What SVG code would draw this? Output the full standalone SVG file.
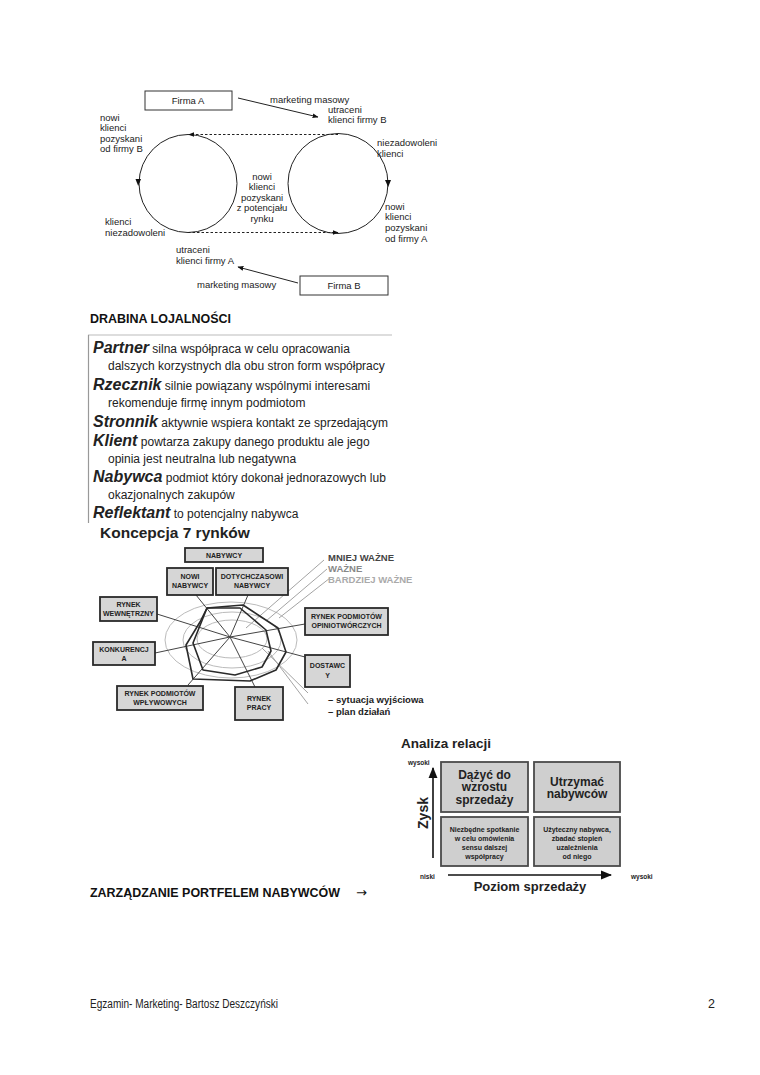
<svg xmlns="http://www.w3.org/2000/svg" width="760" height="1075" viewBox="0 0 760 1075">
<style>
.t{font-family:"Liberation Sans",Arial,sans-serif;fill:#222}
.s9{font-size:9.5px}
.b{font-weight:bold}
.bi{font-weight:bold;font-style:italic}
.box{fill:#fff;stroke:#333;stroke-width:1}
.sb{fill:#d6d6d6;stroke:#2a2a2a;stroke-width:1.8}
.st{font-family:"Liberation Sans",Arial,sans-serif;font-size:7px;font-weight:bold;fill:#222;text-anchor:middle}
.ln{stroke:#222;stroke-width:1;fill:none}
.dash{stroke:#222;stroke-width:1;stroke-dasharray:2.5,2;fill:none}
.ell{fill:none;stroke:#bbb;stroke-width:1}
.spk{stroke:#444;stroke-width:1;fill:none}
.poly{fill:none;stroke:#2a2a2a;stroke-width:1.6;stroke-linejoin:round}
.leg{stroke:#999;stroke-width:0.9;fill:none}
.ab{fill:#cfcfcf;stroke:#4a4a4a;stroke-width:1.8}
.hd{font-family:"Liberation Sans",Arial,sans-serif;font-weight:bold;font-size:12px;fill:#111}
</style>
<defs>
<marker id="ah" viewBox="0 0 10 10" refX="9" refY="5" markerWidth="6" markerHeight="6" orient="auto"><path d="M0,1 L10,5 L0,9 z" fill="#111"/></marker>
<marker id="ah2" viewBox="0 0 10 10" refX="9" refY="5" markerWidth="7" markerHeight="7" orient="auto"><path d="M0,1 L10,5 L0,9 z" fill="#111"/></marker>
</defs>

<rect width="760" height="1075" fill="#fff"/>

<!-- ===== Top diagram ===== -->
<g id="firmaA"><rect class="box" x="145" y="91" width="87" height="19"/><text class="t s9" x="188" y="104" text-anchor="middle">Firma A</text></g>
<g id="firmaB"><rect class="box" x="300" y="276" width="88" height="19"/><text class="t s9" x="344" y="289" text-anchor="middle">Firma B</text></g>
<g id="circleLeft"><circle class="ln" cx="188" cy="183.5" r="49"/><path d="M135.5,179 L141,179 L138.2,186 z" fill="#111"/></g>
<g id="circleRight"><circle class="ln" cx="338" cy="183.5" r="50"/><path d="M385,180 L391,180 L388.2,187 z" fill="#111"/></g>
<g id="connectors-top">
<line class="ln" x1="238" y1="98" x2="318" y2="117" marker-end="url(#ah)"/>
<line class="ln" x1="298" y1="283" x2="238" y2="267" marker-end="url(#ah)"/>
<line class="dash" x1="338" y1="134.5" x2="189" y2="134.5" marker-end="url(#ah)"/>
<line class="dash" x1="188" y1="232.5" x2="338" y2="232.5" marker-end="url(#ah)"/>
</g>
<g id="labels-top" class="t s9">
<text x="270" y="103">marketing masowy</text>
<text x="328" y="113">utraceni</text>
<text x="328" y="123">klienci firmy B</text>
<text x="100" y="121">nowi</text>
<text x="100" y="131">klienci</text>
<text x="100" y="142">pozyskani</text>
<text x="100" y="152">od firmy B</text>
<text x="377" y="146">niezadowoleni</text>
<text x="377" y="157">klienci</text>
<g text-anchor="middle"><text x="262" y="180">nowi</text><text x="262" y="190">klienci</text><text x="262" y="201">pozyskani</text><text x="262" y="211">z potencjału</text><text x="262" y="222">rynku</text></g>
<text x="385" y="210">nowi</text>
<text x="385" y="220">klienci</text>
<text x="385" y="231">pozyskani</text>
<text x="385" y="242">od firmy A</text>
<text x="105" y="225">klienci</text>
<text x="105" y="236">niezadowoleni</text>
<text x="176" y="253">utraceni</text>
<text x="176" y="264">klienci firmy A</text>
<text x="197" y="288">marketing masowy</text>
</g>

<text class="hd" x="90" y="323" textLength="141" lengthAdjust="spacingAndGlyphs">DRABINA LOJALNOŚCI</text>

<!-- ===== Drabina ===== -->
<g id="drabina">
<line x1="88" y1="335" x2="392" y2="335" stroke="#bbb" stroke-width="1.2"/>
<line x1="88.5" y1="335" x2="88.5" y2="523" stroke="#999" stroke-width="1.2"/>
<g class="t" font-size="12">
<text x="93" y="353"><tspan class="bi" font-size="16">Partner</tspan> silna współpraca w celu opracowania</text>
<text x="108" y="370">dalszych korzystnych dla obu stron form współpracy</text>
<text x="93" y="390"><tspan class="bi" font-size="16">Rzecznik</tspan> silnie powiązany wspólnymi interesami</text>
<text x="108" y="407">rekomenduje firmę innym podmiotom</text>
<text x="93" y="427"><tspan class="bi" font-size="16">Stronnik</tspan> aktywnie wspiera kontakt ze sprzedającym</text>
<text x="93" y="446"><tspan class="bi" font-size="16">Klient</tspan> powtarza zakupy danego produktu ale jego</text>
<text x="108" y="463">opinia jest neutralna lub negatywna</text>
<text x="93" y="482"><tspan class="bi" font-size="16">Nabywca</tspan> podmiot który dokonał jednorazowych lub</text>
<text x="108" y="499">okazjonalnych zakupów</text>
<text x="93" y="518"><tspan class="bi" font-size="16">Reflektant</tspan> to potencjalny nabywca</text>
</g>
<text class="t b" x="100" y="538" font-size="15.5">Koncepcja 7 rynków</text>
</g>

<!-- ===== Koncepcja 7 rynkow ===== -->
<g id="spider-bg">
<ellipse class="ell" cx="231" cy="640" rx="66" ry="38"/>
<ellipse class="ell" cx="232" cy="640" rx="49" ry="28"/>
<ellipse class="ell" cx="232" cy="639" rx="35" ry="19"/>
</g>
<g id="connectors-spider">
<line class="spk" x1="230" y1="637" x2="196" y2="595"/>
<line class="spk" x1="230" y1="637" x2="248" y2="595"/>
<line class="spk" x1="230" y1="637" x2="157" y2="614"/>
<line class="spk" x1="230" y1="637" x2="155" y2="653"/>
<line class="spk" x1="230" y1="637" x2="188" y2="685"/>
<line class="spk" x1="230" y1="637" x2="255" y2="687"/>
<line class="spk" x1="230" y1="637" x2="305" y2="624"/>
<line class="spk" x1="230" y1="637" x2="305" y2="657"/>
<line class="leg" x1="324" y1="560" x2="246" y2="628" stroke="#777"/>
<line class="leg" x1="327" y1="569" x2="266" y2="621"/>
<line class="leg" x1="330" y1="578" x2="279" y2="618" stroke="#bbb"/>
<line class="leg" x1="262" y1="648" x2="308" y2="693"/>
<line class="leg" x1="268" y1="651" x2="308" y2="704"/>
</g>
<g id="polygons">
<polygon class="poly" points="207,608 243,605 278,628 286,652 276,670 250,681 193,679 186,645 200,622"/>
<polygon class="poly" points="207,608 240,608 266,630 271,651 262,667 235,675 203,670 193,643"/>
</g>
<g id="n-nabywcy"><rect class="sb" x="185" y="548" width="78" height="14"/><text class="st" x="224" y="558">NABYWCY</text></g>
<g id="n-nowi"><rect class="sb" x="167" y="568" width="46" height="27"/><text class="st" x="190" y="579">NOWI</text><text class="st" x="190" y="588">NABYWCY</text></g>
<g id="n-dotych"><rect class="sb" x="216" y="568" width="72" height="27"/><text class="st" x="252" y="579">DOTYCHCZASOWI</text><text class="st" x="252" y="588">NABYWCY</text></g>
<g id="n-wewn"><rect class="sb" x="100" y="597" width="57" height="24"/><text class="st" x="128.5" y="607">RYNEK</text><text class="st" x="128.5" y="616">WEWNĘTRZNY</text></g>
<g id="n-konk"><rect class="sb" x="93" y="642" width="62" height="23"/><text class="st" x="124" y="652">KONKURENCJ</text><text class="st" x="124" y="661">A</text></g>
<g id="n-wplyw"><rect class="sb" x="117" y="686" width="86" height="24"/><text class="st" x="160" y="696">RYNEK PODMIOTÓW</text><text class="st" x="160" y="705">WPŁYWOWYCH</text></g>
<g id="n-praca"><rect class="sb" x="235" y="687" width="48" height="33"/><text class="st" x="259" y="701">RYNEK</text><text class="st" x="259" y="710">PRACY</text></g>
<g id="n-opinio"><rect class="sb" x="305" y="608" width="83" height="27"/><text class="st" x="346.5" y="619">RYNEK PODMIOTÓW</text><text class="st" x="346.5" y="628">OPINIOTWÓRCZYCH</text></g>
<g id="n-dostawcy"><rect class="sb" x="305" y="655" width="45" height="32"/><text class="st" x="327.5" y="668">DOSTAWC</text><text class="st" x="327.5" y="678">Y</text></g>
<g id="spider-legend" class="t b" font-size="9.5">
<text x="328" y="561" fill="#444">MNIEJ WAŻNE</text>
<text x="328" y="572" fill="#888">WAŻNE</text>
<text x="328" y="583" fill="#aaa">BARDZIEJ WAŻNE</text>
<text x="328" y="703" fill="#222">– sytuacja wyjściowa</text>
<text x="328" y="715" fill="#222">– plan działań</text>
</g>

<!-- ===== Analiza relacji ===== -->
<text class="t b" x="401" y="748" font-size="13.5">Analiza relacji</text>
<g id="axes">
<line x1="433" y1="858" x2="433" y2="768" stroke="#111" stroke-width="1.6" marker-end="url(#ah2)"/>
<line x1="448" y1="875" x2="611" y2="875" stroke="#111" stroke-width="1.6" marker-end="url(#ah2)"/>
</g>
<g class="t b" font-size="6.5">
<text x="408" y="765">wysoki</text>
<text x="420" y="879">niski</text>
<text x="631" y="879">wysoki</text>
</g>
<text class="t b" font-size="14" transform="translate(428,813) rotate(-90)" text-anchor="middle">Zysk</text>
<text class="t b" x="530" y="891" font-size="13" text-anchor="middle">Poziom sprzedaży</text>
<g id="q-tl"><rect class="ab" x="441" y="762" width="87" height="50"/><g class="t b" font-size="12" text-anchor="middle"><text x="484.5" y="779">Dążyć do</text><text x="484.5" y="791">wzrostu</text><text x="484.5" y="804">sprzedaży</text></g></g>
<g id="q-tr"><rect class="ab" x="534" y="762" width="86" height="50"/><g class="t b" font-size="12" text-anchor="middle"><text x="577" y="786">Utrzymać</text><text x="577" y="798">nabywców</text></g></g>
<g id="q-bl"><rect class="ab" x="441" y="817" width="87" height="49"/><g class="t b" font-size="7" text-anchor="middle"><text x="484.5" y="832">Niezbędne spotkanie</text><text x="484.5" y="841">w celu omówienia</text><text x="484.5" y="850">sensu dalszej</text><text x="484.5" y="859">współpracy</text></g></g>
<g id="q-br"><rect class="ab" x="534" y="817" width="86" height="49"/><g class="t b" font-size="7" text-anchor="middle"><text x="577" y="832">Użyteczny nabywca,</text><text x="577" y="841">zbadać stopień</text><text x="577" y="850">uzależnienia</text><text x="577" y="859">od niego</text></g></g>

<text class="hd" x="90" y="897" textLength="250" lengthAdjust="spacingAndGlyphs">ZARZĄDZANIE PORTFELEM NABYWCÓW</text>
<text x="356" y="897" font-family="DejaVu Sans, sans-serif" font-size="13" fill="#111">→</text>

<text class="t" x="90" y="1008" font-size="12.5" fill="#111" textLength="188" lengthAdjust="spacingAndGlyphs">Egzamin- Marketing- Bartosz Deszczyński</text>
<text class="t" x="708" y="1008" font-size="12.5" fill="#111">2</text>
</svg>
